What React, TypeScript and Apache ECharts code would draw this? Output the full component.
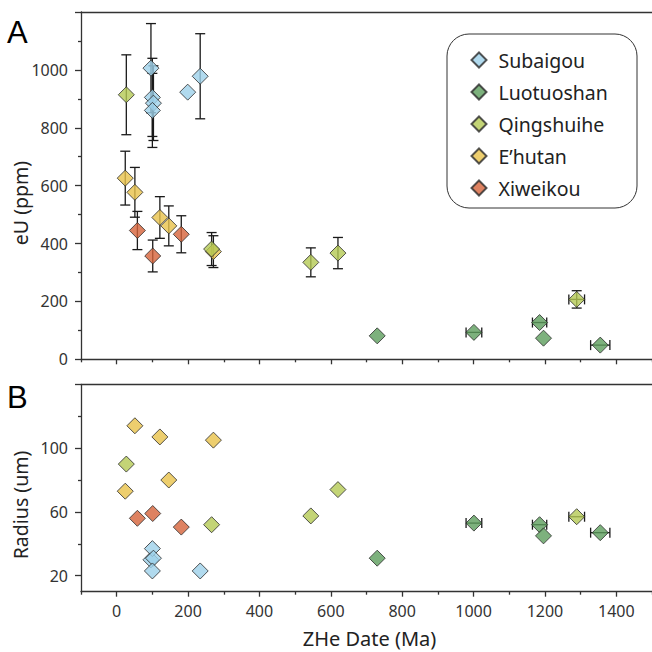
import React, { useEffect, useRef } from 'react';
import * as echarts from 'echarts';

// ---- data ----
const groupNames = ['Subaigou', 'Luotuoshan', 'Qingshuihe', 'E’hutan', 'Xiweikou'];
const groupColors = ['#9dd1ea', '#5c9e5c', '#b4c954', '#e8c24a', '#d6633a'];

const subaigouAge = [96, 100, 103, 100, 199, 234];
const subaigouAgeErr = [0, 0, 0, 0, 0, 0];
const subaigouEU = [1006, 905, 885, 860, 923, 978];
const subaigouEUErr = [154, 135, 129, 128, 0, 147];
const subaigouRadius: (number | null)[] = [30, 37, 31, 23, null, 23];

const luotuoshanAge = [730, 1001, 1185, 1196, 1355];
const luotuoshanAgeErr = [0, 22, 20, 0, 27];
const luotuoshanEU = [81, 93, 127, 73, 49];
const luotuoshanEUErr = [0, 0, 0, 0, 0];
const luotuoshanRadius: (number | null)[] = [31, 53, 52, 45, 47];

const qingshuiheAge = [27, 266, 544, 620, 1289];
const qingshuiheAgeErr = [0, 0, 0, 0, 22];
const qingshuiheEU = [914, 381, 335, 367, 207];
const qingshuiheEUErr = [138, 57, 50, 54, 30];
const qingshuiheRadius: (number | null)[] = [90, 52, 57.5, 74, 57];

const ehutanAge = [24, 51, 121, 146, 271];
const ehutanAgeErr = [0, 0, 0, 0, 0];
const ehutanEU = [626, 577, 490, 461, 372];
const ehutanEUErr = [93, 86, 72, 69, 55];
const ehutanRadius: (number | null)[] = [73, 114, 107, 80, 105];

const xiweikouAge = [58, 101, 181];
const xiweikouAgeErr = [0, 0, 0];
const xiweikouEU = [445, 357, 432];
const xiweikouEUErr = [66, 55, 64];
const xiweikouRadius: (number | null)[] = [56, 59, 50.5];

const xMajorTicks = [0, 200, 400, 600, 800, 1000, 1200, 1400];
const xMinorTicks = [-100, 100, 300, 500, 700, 900, 1100, 1300, 1500];
const euMajorTicks = [0, 200, 400, 600, 800, 1000, 1200];
const euLabels = [0, 200, 400, 600, 800, 1000];
const euMinorTicks = [100, 300, 500, 700, 900, 1100];
const radiusMajorTicks = [20, 60, 100, 140];
const radiusLabels = [20, 60, 100];
const radiusMinorTicks = [40, 80, 120];

type Group = {
  name: string;
  color: string;
  age: number[];
  ageErr: number[];
  eU: number[];
  eUErr: number[];
  radius: (number | null)[];
};

const groups: Group[] = [
  { name: groupNames[0], color: groupColors[0], age: subaigouAge, ageErr: subaigouAgeErr, eU: subaigouEU, eUErr: subaigouEUErr, radius: subaigouRadius },
  { name: groupNames[1], color: groupColors[1], age: luotuoshanAge, ageErr: luotuoshanAgeErr, eU: luotuoshanEU, eUErr: luotuoshanEUErr, radius: luotuoshanRadius },
  { name: groupNames[2], color: groupColors[2], age: qingshuiheAge, ageErr: qingshuiheAgeErr, eU: qingshuiheEU, eUErr: qingshuiheEUErr, radius: qingshuiheRadius },
  { name: groupNames[3], color: groupColors[3], age: ehutanAge, ageErr: ehutanAgeErr, eU: ehutanEU, eUErr: ehutanEUErr, radius: ehutanRadius },
  { name: groupNames[4], color: groupColors[4], age: xiweikouAge, ageErr: xiweikouAgeErr, eU: xiweikouEU, eUErr: xiweikouEUErr, radius: xiweikouRadius },
];

// drawing order (later on top)
const drawOrder = [4, 3, 2, 1, 0];

const FONT = '"Noto Sans", "Open Sans", sans-serif';
const AXIS_COLOR = '#333';
const lineStyle = { color: AXIS_COLOR, width: 1.3 };
const plain = (v: number) => String(v);

function renderErr(params: any, api: any) {
  const x = api.value(0);
  const y = api.value(1);
  const xe = api.value(2);
  const ye = api.value(3);
  const style = { stroke: '#1a1a1a', lineWidth: 1.3, fill: null };
  const cap = 5;
  const children: any[] = [];
  if (ye > 0) {
    const t = api.coord([x, y + ye]);
    const b = api.coord([x, y - ye]);
    children.push({ type: 'line', shape: { x1: t[0], y1: t[1], x2: b[0], y2: b[1] }, style });
    children.push({ type: 'line', shape: { x1: t[0] - cap, y1: t[1], x2: t[0] + cap, y2: t[1] }, style });
    children.push({ type: 'line', shape: { x1: b[0] - cap, y1: b[1], x2: b[0] + cap, y2: b[1] }, style });
  }
  if (xe > 0) {
    const l = api.coord([x - xe, y]);
    const r = api.coord([x + xe, y]);
    children.push({ type: 'line', shape: { x1: l[0], y1: l[1], x2: r[0], y2: r[1] }, style });
    children.push({ type: 'line', shape: { x1: l[0], y1: l[1] - cap, x2: l[0], y2: l[1] + cap }, style });
    children.push({ type: 'line', shape: { x1: r[0], y1: r[1] - cap, x2: r[0], y2: r[1] + cap }, style });
  }
  return { type: 'group', children };
}

function xAxes(gridIndex: number, showLabels: boolean) {
  const base = { type: 'value', gridIndex, min: -100, max: 1500, splitLine: { show: false } };
  return [
    {
      ...base,
      position: 'bottom',
      axisLine: { show: true, onZero: false, lineStyle },
      axisTick: { show: true, customValues: xMajorTicks, length: 5, lineStyle },
      axisLabel: { show: showLabels, customValues: xMajorTicks, formatter: plain, margin: 11, fontSize: 16, color: AXIS_COLOR, fontFamily: FONT },
    },
    {
      ...base,
      position: 'bottom',
      axisLine: { show: false, onZero: false },
      axisTick: { show: true, customValues: xMinorTicks, length: 3, lineStyle },
      axisLabel: { show: false },
    },
    {
      ...base,
      position: 'top',
      axisLine: { show: true, onZero: false, lineStyle },
      axisTick: { show: false },
      axisLabel: { show: false },
    },
  ];
}

function yAxes(gridIndex: number, min: number, max: number, major: number[], labels: number[], minor: number[]) {
  const base = { type: 'value', gridIndex, min, max, position: 'left', splitLine: { show: false } };
  return [
    {
      ...base,
      axisLine: { show: true, onZero: false, lineStyle },
      axisTick: { show: true, customValues: major, length: 6, lineStyle },
      axisLabel: { show: true, customValues: labels, formatter: plain, margin: 13, fontSize: 16, color: AXIS_COLOR, fontFamily: FONT },
    },
    {
      ...base,
      axisLine: { show: false, onZero: false },
      axisTick: { show: true, customValues: minor, length: 3, lineStyle },
      axisLabel: { show: false },
    },
  ];
}

export default function App() {
  const ref = useRef<HTMLDivElement>(null);

  useEffect(() => {
    document.body.style.margin = '0';
    if (!ref.current) return;
    const chart = echarts.init(ref.current, null, { renderer: 'svg' });

    const errTop: number[][] = [];
    const errBottom: number[][] = [];
    groups.forEach((g) => {
      g.age.forEach((a, i) => {
        errTop.push([a, g.eU[i], g.ageErr[i], g.eUErr[i]]);
        const r = g.radius[i];
        if (r !== null) errBottom.push([a, r, g.ageErr[i], 0]);
      });
    });

    const scatterSeries: any[] = [];
    drawOrder.forEach((gi) => {
      const g = groups[gi];
      const itemStyle = { color: g.color, borderColor: '#2a2a2a', borderWidth: 1 };
      scatterSeries.push({
        type: 'scatter',
        name: g.name,
        xAxisIndex: 0,
        yAxisIndex: 0,
        symbol: 'diamond',
        symbolSize: 16,
        itemStyle,
        z: 3,
        data: g.age.map((a, i) => [a, g.eU[i]]),
      });
      scatterSeries.push({
        type: 'scatter',
        name: g.name,
        xAxisIndex: 3,
        yAxisIndex: 2,
        symbol: 'diamond',
        symbolSize: 16,
        itemStyle,
        z: 3,
        data: g.age
          .map((a, i) => [a, g.radius[i]])
          .filter((d) => d[1] !== null),
      });
    });

    const option: any = {
      animation: false,
      backgroundColor: '#fff',
      grid: [
        { left: 81, top: 12, width: 575, height: 347.3, containLabel: false },
        { left: 81, top: 384.3, width: 575, height: 207.4, containLabel: false },
      ],
      xAxis: [...xAxes(0, false), ...xAxes(1, true)],
      yAxis: [
        ...yAxes(0, 0, 1200, euMajorTicks, euLabels, euMinorTicks),
        ...yAxes(1, 10, 140, radiusMajorTicks, radiusLabels, radiusMinorTicks),
      ],
      legend: {
        orient: 'vertical',
        left: 470.5,
        top: 50,
        padding: 0,
        itemWidth: 15,
        itemHeight: 15,
        itemGap: 12,
        data: groupNames,
        textStyle: { fontSize: 19.5, lineHeight: 18, color: '#222', fontFamily: FONT, padding: [0, 0, 0, 7] },
      },
      graphic: [
        {
          type: 'rect',
          shape: { x: 447, y: 34, width: 190, height: 174, r: 22 },
          style: { fill: 'none', stroke: '#333', lineWidth: 1 },
          z: 10,
        },
        {
          type: 'text',
          x: 7,
          y: 32,
          style: { text: 'A', fontSize: 31, fontFamily: '"Liberation Sans", Arial, sans-serif', fill: '#000', textAlign: 'left', textVerticalAlign: 'middle' },
        },
        {
          type: 'text',
          x: 7,
          y: 397,
          style: { text: 'B', fontSize: 31, fontFamily: '"Liberation Sans", Arial, sans-serif', fill: '#000', textAlign: 'left', textVerticalAlign: 'middle' },
        },
        {
          type: 'text',
          x: 20,
          y: 203,
          rotation: Math.PI / 2,
          style: { text: 'eU (ppm)', fontSize: 19.5, fontFamily: FONT, fill: '#222', textAlign: 'center', textVerticalAlign: 'middle' },
        },
        {
          type: 'text',
          x: 20,
          y: 505,
          rotation: Math.PI / 2,
          style: { text: 'Radius (um)', fontSize: 19.5, fontFamily: FONT, fill: '#222', textAlign: 'center', textVerticalAlign: 'middle' },
        },
        {
          type: 'text',
          x: 369.5,
          y: 638,
          style: { text: 'ZHe Date (Ma)', fontSize: 20, fontFamily: FONT, fill: '#222', textAlign: 'center', textVerticalAlign: 'middle' },
        },
      ],
      series: [
        {
          type: 'custom',
          name: 'errTop',
          xAxisIndex: 0,
          yAxisIndex: 0,
          renderItem: renderErr,
          encode: { x: 0, y: 1 },
          data: errTop,
          z: 1,
          silent: true,
        },
        {
          type: 'custom',
          name: 'errBottom',
          xAxisIndex: 3,
          yAxisIndex: 2,
          renderItem: renderErr,
          encode: { x: 0, y: 1 },
          data: errBottom,
          z: 1,
          silent: true,
        },
        ...scatterSeries,
      ],
    };

    chart.setOption(option);
    return () => chart.dispose();
  }, []);

  return <div ref={ref} style={{ width: 652, height: 652 }} />;
}
